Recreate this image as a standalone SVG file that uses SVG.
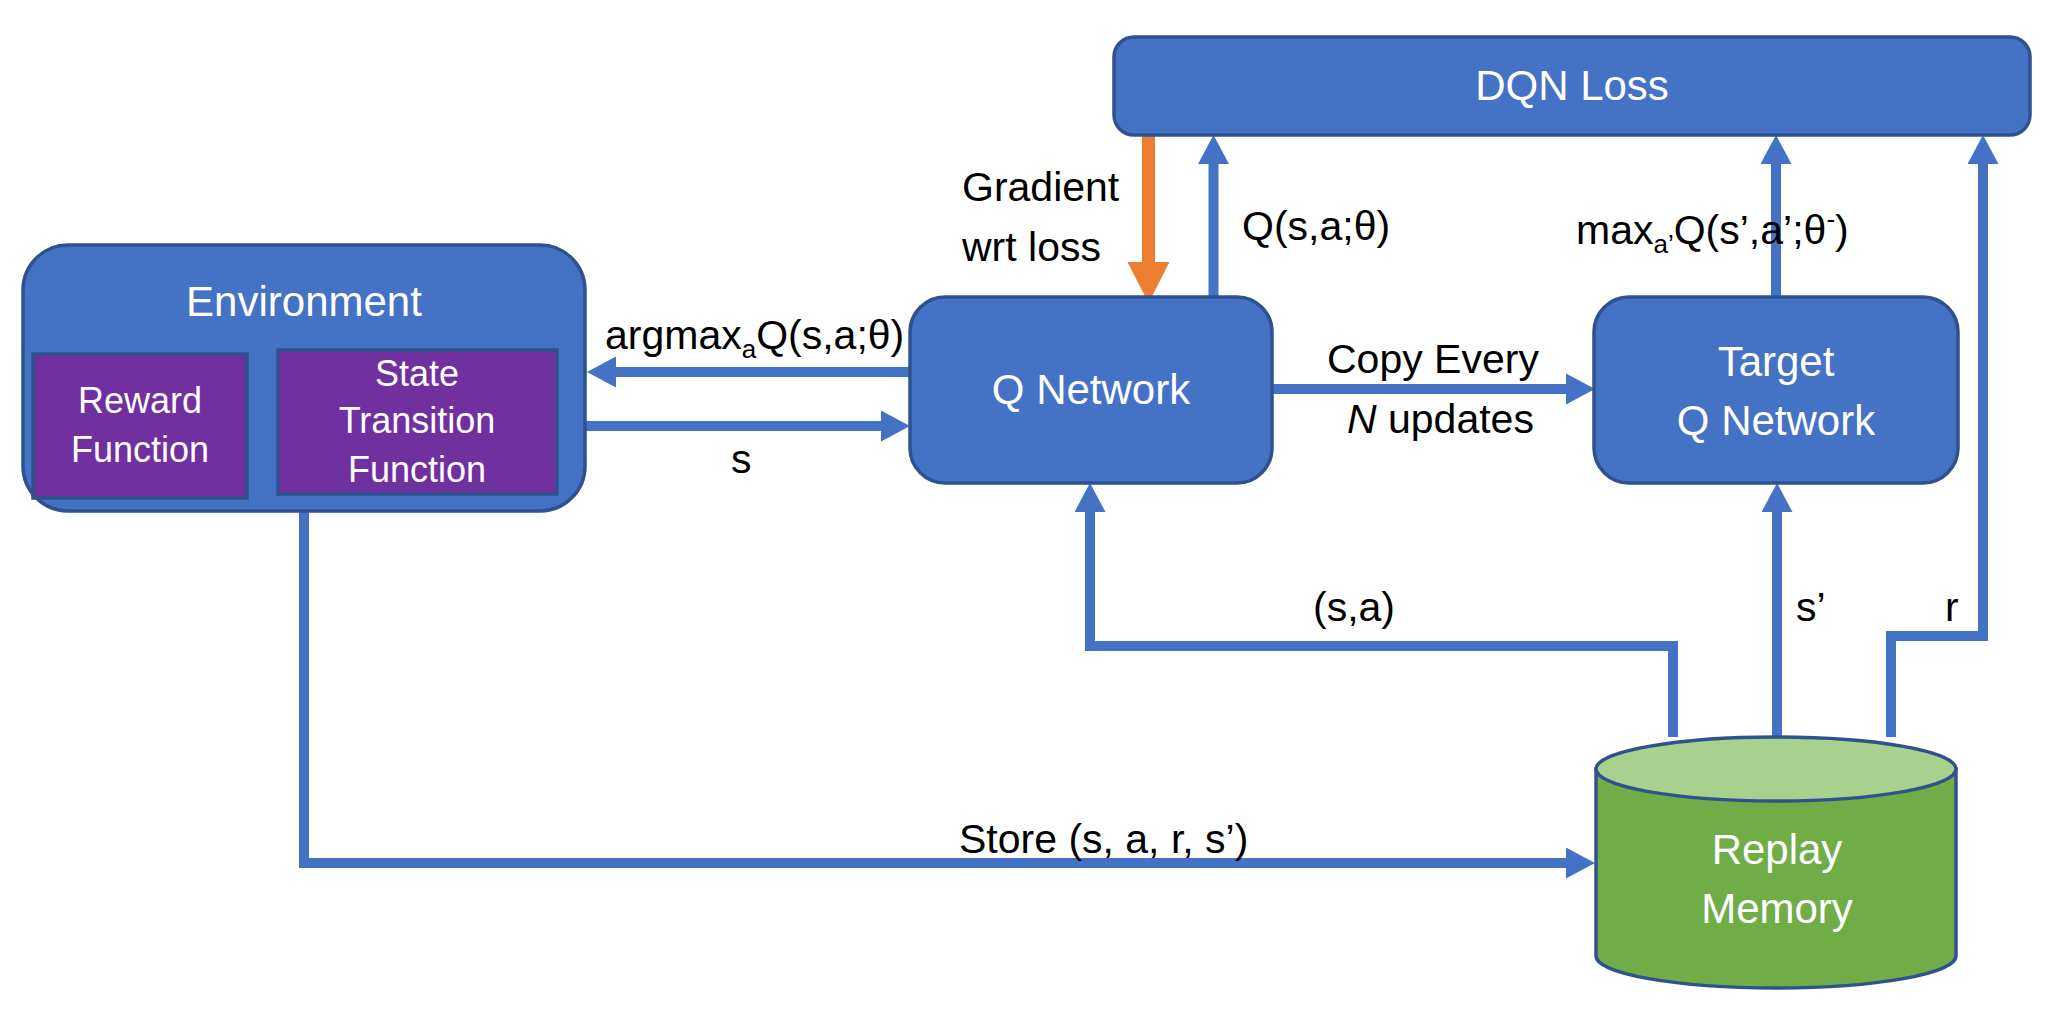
<svg xmlns="http://www.w3.org/2000/svg" width="2050" height="1015" viewBox="0 0 2050 1015">
<defs>
<style>
.box{fill:#4472C4;stroke:#2F528F;stroke-width:3.5}
.inner{fill:#7030A0;stroke:#2F528F;stroke-width:3.5}
.wl{font-family:"Liberation Sans",Arial,sans-serif;font-size:42px;fill:#FFFFFF;text-anchor:middle}
.wi{font-family:"Liberation Sans",Arial,sans-serif;font-size:36px;fill:#FFFFFF;text-anchor:middle}
.el{font-family:"Liberation Sans",Arial,sans-serif;font-size:41px;fill:#000000}
.con{fill:none;stroke:#4472C4;stroke-width:10;stroke-linejoin:miter}
.grad{fill:none;stroke:#ED7D31;stroke-width:13}
</style>
<marker id="ah" markerUnits="userSpaceOnUse" markerWidth="30" markerHeight="31" refX="0" refY="15.5" orient="auto" viewBox="0 0 30 31">
<path d="M0,0 L29,15.5 L0,31 Z" fill="#4472C4"/>
</marker>
<marker id="ahg" markerUnits="userSpaceOnUse" markerWidth="42" markerHeight="42" refX="0" refY="21" orient="auto" viewBox="0 0 42 42">
<path d="M0,0 L41,21 L0,42 Z" fill="#ED7D31"/>
</marker>
</defs>
<rect width="2050" height="1015" fill="#FFFFFF"/>

<g id="connectors">
<line class="con" x1="910" y1="372" x2="616" y2="372" marker-end="url(#ah)"/>
<line class="con" x1="585" y1="426" x2="881" y2="426" marker-end="url(#ah)"/>
<line class="grad" x1="1148.5" y1="135" x2="1148.5" y2="262" marker-end="url(#ahg)"/>
<line class="con" x1="1213.5" y1="297" x2="1213.5" y2="164" marker-end="url(#ah)"/>
<line class="con" x1="1272" y1="389" x2="1566" y2="389" marker-end="url(#ah)"/>
<line class="con" x1="1776" y1="297" x2="1776" y2="164" marker-end="url(#ah)"/>
<polyline class="con" points="1891,737 1891,636 1983,636 1983,164" marker-end="url(#ah)"/>
<line class="con" x1="1777" y1="737" x2="1777" y2="512" marker-end="url(#ah)"/>
<polyline class="con" points="1673,737 1673,646 1090,646 1090,512" marker-end="url(#ah)"/>
<polyline class="con" points="304,511 304,863 1566,863" marker-end="url(#ah)"/>
</g>

<g id="dqn-loss">
<rect class="box" x="1114" y="37" width="916" height="98" rx="20"/>
<text class="wl" x="1572" y="100">DQN Loss</text>
</g>

<g id="environment">
<rect class="box" x="23" y="245" width="562" height="266" rx="45"/>
<text class="wl" x="304" y="316">Environment</text>
</g>
<g id="reward-function">
<rect class="inner" x="33" y="354" width="214" height="144"/>
<text class="wi" x="140" y="413">Reward</text>
<text class="wi" x="140" y="462">Function</text>
</g>
<g id="state-transition-function">
<rect class="inner" x="278" y="350" width="279" height="144"/>
<text class="wi" x="417" y="386">State</text>
<text class="wi" x="417" y="433">Transition</text>
<text class="wi" x="417" y="482">Function</text>
</g>

<g id="q-network">
<rect class="box" x="910" y="297" width="362" height="186" rx="35"/>
<text class="wl" x="1091" y="404">Q Network</text>
</g>

<g id="target-q-network">
<rect class="box" x="1594" y="297" width="364" height="186" rx="35"/>
<text class="wl" x="1776" y="376">Target</text>
<text class="wl" x="1776" y="435">Q Network</text>
</g>

<g id="replay-memory">
<path d="M1596,769 L1596,956 A180,32 0 0 0 1956,956 L1956,769 Z" fill="#70AD47" stroke="#2F528F" stroke-width="3.5"/>
<ellipse cx="1776" cy="769" rx="180" ry="32" fill="#A9D18E" stroke="#2F528F" stroke-width="3.5"/>
<text class="wl" x="1777" y="864">Replay</text>
<text class="wl" x="1777" y="923">Memory</text>
</g>

<g id="labels">
<text class="el" x="605" y="349">argmax<tspan font-size="26" dy="9">a</tspan><tspan dy="-9">Q(s,a;θ)</tspan></text>
<text class="el" x="731" y="473">s</text>
<text class="el" x="962" y="201">Gradient</text>
<text class="el" x="962" y="261">wrt loss</text>
<text class="el" x="1242" y="240">Q(s,a;θ)</text>
<text class="el" x="1576" y="244">max<tspan font-size="26" dy="9">a’</tspan><tspan dy="-9">Q(s’,a’;θ</tspan><tspan font-size="26" dy="-16">-</tspan><tspan dy="16">)</tspan></text>
<text class="el" x="1327" y="373">Copy Every</text>
<text class="el" x="1347" y="433"><tspan font-style="italic">N</tspan> updates</text>
<text class="el" x="1313" y="621">(s,a)</text>
<text class="el" x="1796" y="621">s’</text>
<text class="el" x="1945" y="621">r</text>
<text class="el" x="959" y="853">Store (s, a, r, s’)</text>
</g>
</svg>
